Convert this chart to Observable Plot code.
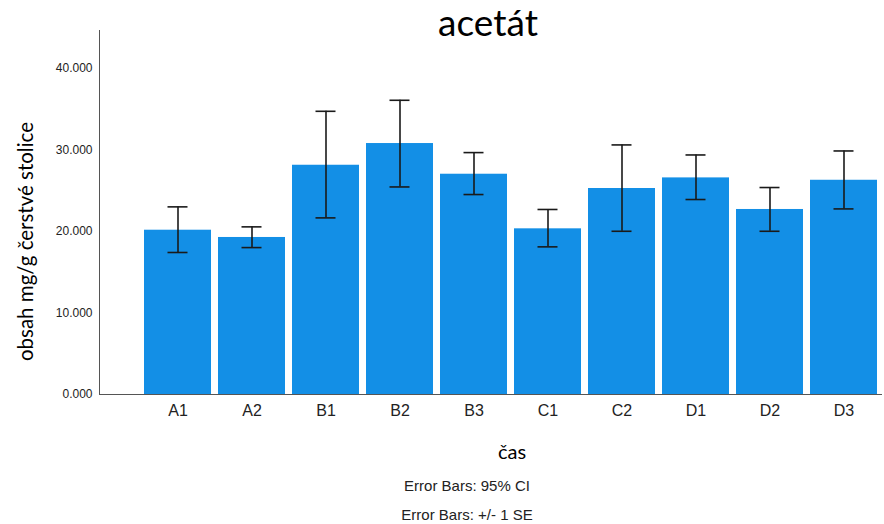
<!DOCTYPE html>
<html>
<head>
<meta charset="utf-8">
<script src="https://cdn.jsdelivr.net/npm/d3@7"></script>
<script src="https://cdn.jsdelivr.net/npm/@observablehq/plot@0.6"></script>
<style>
  html, body { margin: 0; padding: 0; background: #fff; }
  #chart { width: 884px; height: 524px; }
</style>
</head>
<body>
<div id="chart"></div>
<script>
const categories = ["A1", "A2", "B1", "B2", "B3", "C1", "C2", "D1", "D2", "D3"];
const means = [20.13, 19.24, 28.09, 30.75, 26.99, 20.30, 25.24, 26.54, 22.67, 26.25];
const errHigh = [22.99, 20.54, 34.70, 36.05, 29.64, 22.67, 30.58, 29.35, 25.36, 29.84];
const errLow = [17.40, 18.00, 21.64, 25.43, 24.50, 18.09, 20.00, 23.89, 20.00, 22.74];
const yTicks = [0, 10, 20, 30, 40];
const title = "acetát";
const xLabel = "čas";
const yLabel = "obsah mg/g čerstvé stolice";
const notes = ["Error Bars: 95% CI", "Error Bars: +/- 1 SE"];

const data = categories.map((c, i) => ({cat: c, mean: means[i], hi: errHigh[i], lo: errLow[i]}));

const chart = Plot.plot({
  width: 884,
  height: 524,
  marginTop: 30,
  marginLeft: 99,
  marginRight: 2,
  marginBottom: 130,
  style: {fontFamily: "'Liberation Sans', Arial, sans-serif", background: "#fff", overflow: "visible"},
  x: {domain: categories, paddingInner: 0.1, paddingOuter: 0.34, align: 0.9, label: null},
  y: {domain: [0, 44.6], label: null},
  marks: [
    Plot.barY(data, {x: "cat", y: "mean", fill: "#138fe6"}),
    Plot.ruleX(data, {x: "cat", y1: "lo", y2: "hi", stroke: "#1a1a1a", strokeWidth: 1.6}),
    Plot.tickY(data, {x: "cat", y: "hi", stroke: "#1a1a1a", strokeWidth: 1.6, insetLeft: 23.5, insetRight: 23.5}),
    Plot.tickY(data, {x: "cat", y: "lo", stroke: "#1a1a1a", strokeWidth: 1.6, insetLeft: 23.5, insetRight: 23.5}),
    Plot.frame({anchor: "left", stroke: "#555"}),
    Plot.ruleY([0], {stroke: "#555"}),
    Plot.axisY({ticks: yTicks, tickFormat: d3.format(".3f"), tickSize: 0, tickPadding: 7, fontSize: 12, fill: "#222", label: null}),
    Plot.axisX({tickSize: 0, tickPadding: 10, fontSize: 16, fill: "#222", label: null}),
    Plot.text([title], {frameAnchor: "top", lineAnchor: "bottom", dy: 5, dx: -3, fontSize: 37, fontFamily: "Lato, sans-serif", fill: "#000"}),
    Plot.text([yLabel], {frameAnchor: "left", rotate: -90, textAnchor: "middle", lineAnchor: "middle", dx: -73, dy: 29, fontSize: 20.5, fontFamily: "Lato, sans-serif", fill: "#000"}),
    Plot.text([xLabel], {frameAnchor: "bottom", lineAnchor: "bottom", dx: 21, dy: 64, fontSize: 20, fontFamily: "Lato, sans-serif", fill: "#000"}),
    Plot.text([notes[0]], {frameAnchor: "bottom", lineAnchor: "bottom", dx: -24, dy: 96, fontSize: 15, fill: "#222"}),
    Plot.text([notes[1]], {frameAnchor: "bottom", lineAnchor: "bottom", dx: -24, dy: 125, fontSize: 15, fill: "#222"})
  ]
});
document.getElementById("chart").appendChild(chart);
</script>
</body>
</html>
